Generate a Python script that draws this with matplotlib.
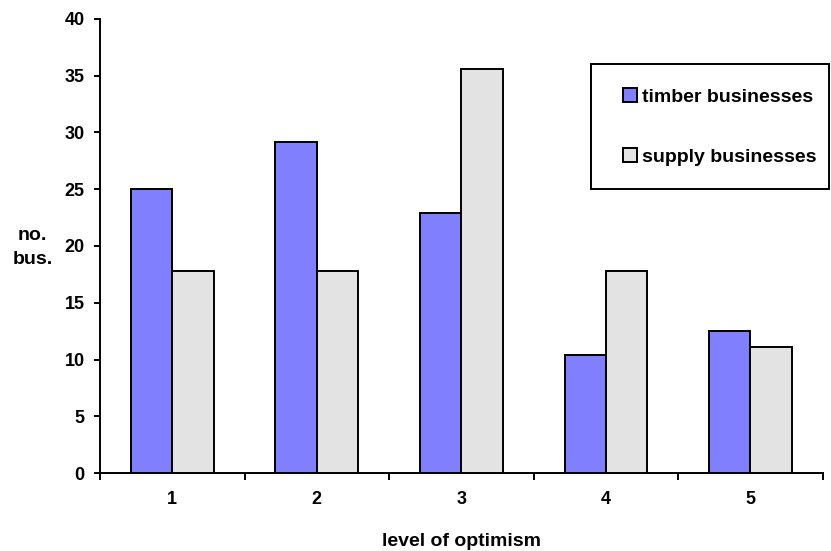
import matplotlib
matplotlib.use("Agg")
import matplotlib.pyplot as plt
import numpy as np
from matplotlib.ticker import FixedLocator
from matplotlib.patches import Rectangle

plt.rcParams['font.family'] = ['Liberation Sans', 'DejaVu Sans']
plt.rcParams['font.weight'] = 'bold'

# Share of businesses (%) at each level of optimism
levels = ["1", "2", "3", "4", "5"]
timber = [25.0, 29.17, 22.92, 10.42, 12.5]
supply = [17.78, 17.78, 35.56, 17.78, 11.11]
series_names = ["timber businesses", "supply businesses"]
yticks = [0, 5, 10, 15, 20, 25, 30, 35, 40]

W, H = 831, 551
fig = plt.figure(figsize=(W / 100, H / 100), dpi=100)
ax = fig.add_axes([100 / W, 1 - 473.3 / H, 722.7 / W, 454.6 / H])

lw = 1.4
x = np.arange(len(levels))
w = 0.286
b1 = ax.bar(x - w / 2, timber, width=w, color="#8080FF", edgecolor="black",
            linewidth=lw, label=series_names[0], zorder=3)
b2 = ax.bar(x + w / 2, supply, width=w, color="#E3E3E3", edgecolor="black",
            linewidth=lw, label=series_names[1], zorder=3)

ax.set_xlim(-0.5, len(levels) - 0.5)
ax.set_ylim(0, 40)
ax.set_yticks(yticks)
ax.set_yticklabels([str(v) for v in yticks], fontsize=13, fontweight='bold')

# category labels centred, ticks on the category boundaries
ax.set_xticks(x)
ax.set_xticklabels(levels, fontsize=13, fontweight='bold')
ax.tick_params(axis='x', which='major', length=0, pad=12.5)
ax.xaxis.set_minor_locator(FixedLocator(np.arange(-0.5, len(levels), 1.0)))
ax.tick_params(axis='x', which='minor', length=5, width=lw, direction='out')
ax.tick_params(axis='y', length=4.5, width=lw, direction='out', pad=6.5)

for side in ("top", "right"):
    ax.spines[side].set_visible(False)
for side in ("left", "bottom"):
    ax.spines[side].set_linewidth(lw)
    ax.spines[side].set_color("black")

# axis titles
fig.text(32.5 / W, 1 - 240 / H, "no.", ha="center", va="baseline",
         fontsize=14, fontweight='bold')
fig.text(32.5 / W, 1 - 264 / H, "bus.", ha="center", va="baseline",
         fontsize=14, fontweight='bold')
fig.text(462 / W, 1 - 546 / H, "level of optimism", ha="center",
         va="baseline", fontsize=14, fontweight='bold')

# legend with a square-cornered frame
frame = Rectangle((591 / W, 1 - 189.2 / H), 237.5 / W, 125.5 / H,
                  transform=fig.transFigure, facecolor="white",
                  edgecolor="black", linewidth=lw, zorder=4)
fig.add_artist(frame)
leg = fig.legend(handles=[b1, b2], labels=series_names, loc="upper left",
                 bbox_to_anchor=(622.7 / W, 1 - 88.5 / H),
                 bbox_transform=fig.transFigure,
                 frameon=False, fontsize=14, handlelength=0.75,
                 handleheight=0.7, handletextpad=0.25, labelspacing=2.15,
                 borderpad=0, borderaxespad=0)
leg.set_zorder(6)
for t in leg.get_texts():
    t.set_fontweight('bold')
for hnd in leg.legend_handles:
    hnd.set_linewidth(lw)

fig.savefig("out.png", dpi=100)
